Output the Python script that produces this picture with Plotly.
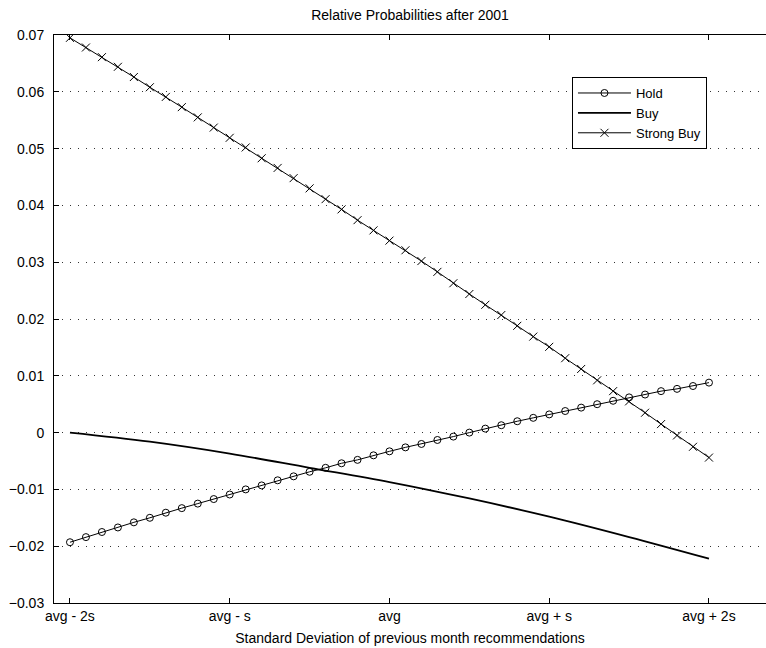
import plotly.graph_objects as go

# x positions in units of standard deviation (avg - 2s ... avg + 2s, 41 points)
x_pts = [round(-2 + 0.1 * i, 1) for i in range(41)]

hold = [-0.0193, -0.0184, -0.0175, -0.0167, -0.0158, -0.0150, -0.0141, -0.0133, -0.0125, -0.0117,
        -0.0109, -0.0100, -0.0093, -0.0084, -0.0077, -0.0069, -0.0062, -0.0054, -0.0048, -0.0040,
        -0.0033, -0.0026, -0.0020, -0.0013, -0.0007, 0.0000, 0.0007, 0.0013, 0.0020, 0.0026,
        0.0032, 0.0038, 0.0044, 0.0050, 0.0056, 0.0062, 0.0067, 0.0073, 0.0077, 0.0082, 0.0088]

strong_buy = [0.0695, 0.0678, 0.0661, 0.0644, 0.0626, 0.0608, 0.0591, 0.0573, 0.0555, 0.0537,
              0.0519, 0.0502, 0.0483, 0.0466, 0.0448, 0.0430, 0.0411, 0.0393, 0.0374, 0.0356,
              0.0338, 0.0321, 0.0302, 0.0283, 0.0263, 0.0244, 0.0225, 0.0207, 0.0188, 0.0169,
              0.0151, 0.0131, 0.0112, 0.0092, 0.0073, 0.0055, 0.0035, 0.0015, -0.0005, -0.0025, -0.0044]

buy_x = [-2, -1.5, -1, -0.5, 0, 0.5, 1, 1.5, 2]
buy = [0.0, -0.0016, -0.0037, -0.0062, -0.0087, -0.0116, -0.0148, -0.0184, -0.0222]

tick_vals = [-2, -1, 0, 1, 2]
tick_text = ["avg - 2s", "avg - s", "avg", "avg + s", "avg + 2s"]

FONT = "Liberation Sans, Arial, sans-serif"

fig = go.Figure()
fig.add_trace(go.Scatter(x=x_pts, y=hold, mode="lines+markers", name="Hold",
                         line=dict(color="black", width=1),
                         marker=dict(symbol="circle-open", size=7, color="black",
                                     line=dict(width=1, color="black"))))
fig.add_trace(go.Scatter(x=buy_x, y=buy, mode="lines", name="Buy",
                         line=dict(color="black", width=1.8, shape="spline")))
fig.add_trace(go.Scatter(x=x_pts, y=strong_buy, mode="lines+markers", name="Strong Buy",
                         line=dict(color="black", width=1),
                         marker=dict(symbol="x-thin-open", size=8, color="black",
                                     line=dict(width=1, color="black"))))

fig.update_layout(
    width=766, height=648,
    margin=dict(l=54, r=0, t=35, b=45),
    paper_bgcolor="white", plot_bgcolor="white",
    font=dict(family=FONT, size=14, color="black"),
    title=dict(text="Relative Probabilities after 2001", x=0.5, xref="paper",
               y=1 - 15 / 648, yref="container", yanchor="middle",
               font=dict(size=14, color="black")),
    legend=dict(x=0.7275, y=0.926, xanchor="left", yanchor="top",
                bgcolor="white", bordercolor="black", borderwidth=1,
                font=dict(size=13), itemwidth=53, tracegroupgap=0),
    showlegend=True,
)
fig.update_xaxes(range=[-2.1, 2.357], tickvals=tick_vals, ticktext=tick_text,
                 automargin=False,
                 showgrid=False, zeroline=False, showline=True, linecolor="black",
                 linewidth=1, mirror="ticks", ticks="inside", ticklen=5,
                 tickcolor="black", tickfont=dict(size=14),
                 title=dict(text="Standard Deviation of previous month recommendations",
                            font=dict(size=14), standoff=10))
fig.update_yaxes(range=[-0.03, 0.07], dtick=0.01, tickformat="~g",
                 automargin=False, ticklabelstandoff=6,
                 showgrid=True, gridcolor="#333", gridwidth=1, griddash="1px,7px",
                 zeroline=False, showline=True, linecolor="black", linewidth=1,
                 ticks="inside", ticklen=5, tickcolor="black", tickfont=dict(size=14))

fig.write_html("out.html", config={"displayModeBar": False})

# remove the default browser page margin so the figure sits at the page origin
with open("out.html", "r", encoding="utf-8") as f:
    html = f.read()
html = html.replace("<body>", '<body style="margin:0;padding:0;overflow:hidden">', 1)
with open("out.html", "w", encoding="utf-8") as f:
    f.write(html)
